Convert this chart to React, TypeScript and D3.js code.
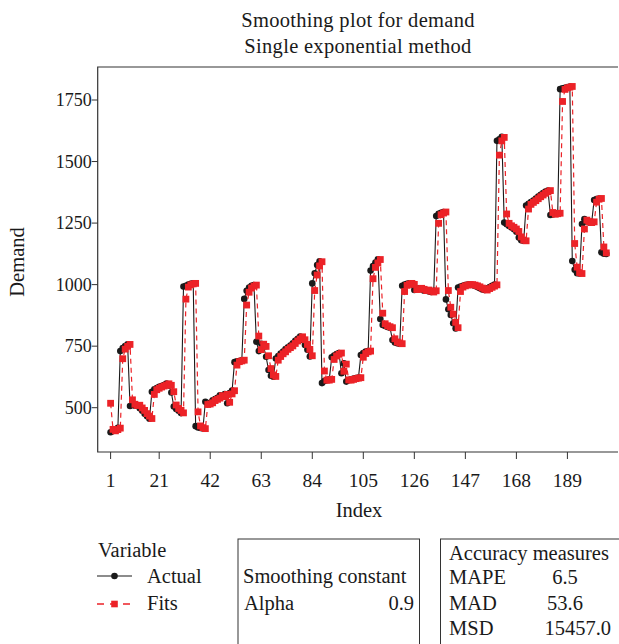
import React from "react";
import * as d3 from "d3";

const actual: number[] = [
  400, 405, 412, 418, 730, 742, 750, 758, 507, 512,
  508, 510, 498, 488, 475, 465, 455, 565, 575, 580,
  585, 588, 592, 598, 590, 562, 505, 495, 488, 478,
  992, 995, 1000, 1003, 1005, 425, 420, 418, 415, 524,
  515, 520, 530, 535, 540, 550, 545, 555, 518, 560,
  570, 685, 688, 690, 693, 942, 975, 988, 995, 998,
  768, 730, 760, 748, 707, 653, 630, 626, 700, 710,
  720, 728, 738, 745, 752, 762, 772, 780, 789, 775,
  755, 735, 708, 1005, 1046, 1080, 1095, 600, 608, 612,
  615, 705, 712, 718, 722, 640, 680, 606, 612, 615,
  618, 620, 622, 714, 722, 728, 730, 1057, 1075, 1090,
  1103, 860, 836, 832, 828, 825, 775, 765, 762, 760,
  995, 1000, 1003, 1005, 1000, 978, 982, 985, 980, 975,
  978, 972, 970, 975, 1279, 1288, 1292, 1295, 940, 900,
  877, 843, 822, 988, 992, 995, 998, 1000, 1000, 998,
  995, 990, 985, 980, 978, 985, 990, 995, 1000, 1584,
  1590, 1600, 1252, 1245, 1238, 1232, 1225, 1215, 1191, 1180,
  1178, 1321, 1328, 1335, 1342, 1350, 1358, 1365, 1372, 1378,
  1382, 1283, 1285, 1288, 1290, 1794, 1798, 1800, 1802, 1805,
  1096, 1060, 1046, 1045, 1246, 1266, 1255, 1252, 1255, 1344,
  1348, 1350, 1131, 1126, 1125,
];

const fits: number[] = [
  518, 412, 406, 411, 417, 699, 738, 749, 757, 532,
  514, 509, 510, 499, 489, 476, 466, 456, 554, 573,
  579, 584, 588, 592, 597, 591, 565, 511, 497, 489,
  479, 941, 990, 999, 1003, 1005, 483, 426, 419, 415,
  513, 515, 520, 529, 534, 539, 549, 545, 554, 522,
  556, 569, 673, 687, 690, 693, 917, 969, 986, 994,
  998, 791, 736, 758, 749, 711, 659, 633, 627, 693,
  708, 719, 727, 737, 744, 751, 761, 771, 779, 788,
  776, 757, 737, 711, 976, 1039, 1076, 1093, 649, 612,
  612, 615, 696, 710, 717, 722, 648, 677, 613, 612,
  615, 618, 620, 622, 705, 720, 727, 730, 1024, 1070,
  1088, 1102, 884, 841, 833, 829, 825, 780, 767, 763,
  760, 972, 997, 1002, 1005, 1001, 980, 982, 985, 981,
  976, 978, 973, 970, 975, 1249, 1284, 1291, 1295, 976,
  908, 880, 847, 825, 972, 990, 995, 998, 1000, 1000,
  998, 995, 991, 986, 981, 978, 984, 989, 994, 999,
  1526, 1584, 1598, 1287, 1249, 1239, 1233, 1226, 1216, 1194,
  1181, 1178, 1307, 1326, 1334, 1341, 1349, 1357, 1364, 1371,
  1377, 1382, 1293, 1286, 1288, 1290, 1744, 1793, 1799, 1802,
  1805, 1167, 1071, 1049, 1045, 1226, 1262, 1256, 1252, 1255,
  1335, 1347, 1350, 1153, 1129,
];

const xTicks: number[] = [1, 21, 42, 63, 84, 105, 126, 147, 168, 189];
const yTicks: number[] = [500, 750, 1000, 1250, 1500, 1750];
const titleLines: string[] = ["Smoothing plot for demand", "Single exponential method"];
const accuracyNames: string[] = ["MAPE", "MAD", "MSD"];
const accuracyValues: string[] = ["6.5", "53.6", "15457.0"];
const alphaValue = "0.9";

const W = 619;
const H = 644;
const FONT = "'Liberation Serif', 'DejaVu Serif', serif";
const RED = "#ec2227";
const DARK = "#1a1a1a";

export default function App() {
  const plotLeft = 97.7;
  const plotRight = 618;
  const plotTop = 67;
  const plotBottom = 452;

  const x = d3.scaleLinear().domain([1, 205]).range([110.6, 606.3]);
  const y = d3.scaleLinear().domain([500, 1750]).range([407.7, 100]);

  const lineGen = d3
    .line<number>()
    .x((_, i) => x(i + 1))
    .y((d) => y(d));

  const fsTitle = 20.5;
  const fsTickY = 18;
  const fsTickX = 19.5;
  const fsText = 20.5;

  return (
    <svg
      width={W}
      height={H}
      style={{ position: "absolute", left: 0, top: 0, background: "#fff" }}
      fontFamily={FONT}
    >
      <rect x={0} y={0} width={W} height={H} fill="#fff" />
      {/* Titles */}
      <text x={358} y={27} textAnchor="middle" fontSize={fsTitle} letterSpacing={0.3} fill={DARK}>
        {titleLines[0]}
      </text>
      <text x={358} y={53} textAnchor="middle" fontSize={fsTitle} letterSpacing={0.3} fill={DARK}>
        {titleLines[1]}
      </text>

      {/* Frame */}
      <path
        d={`M${plotRight},${plotTop}H${plotLeft}V${plotBottom}H${plotRight}`}
        fill="none"
        stroke="#333"
        strokeWidth={1.2}
      />

      {/* Y axis ticks */}
      {yTicks.map((t) => (
        <g key={"y" + t}>
          <line x1={plotLeft - 6} x2={plotLeft} y1={y(t)} y2={y(t)} stroke="#333" strokeWidth={1} />
          <text x={plotLeft - 6} y={y(t)} dy="0.35em" textAnchor="end" fontSize={fsTickY} fill={DARK}>
            {t}
          </text>
        </g>
      ))}
      <text
        transform={`translate(24,262) rotate(-90)`}
        textAnchor="middle"
        fontSize={fsText}
        fill={DARK}
      >
        Demand
      </text>

      {/* X axis ticks */}
      {xTicks.map((t) => (
        <g key={"x" + t}>
          <line x1={x(t)} x2={x(t)} y1={plotBottom} y2={plotBottom + 7} stroke="#333" strokeWidth={1} />
          <text x={x(t)} y={487} textAnchor="middle" fontSize={fsTickX} fill={DARK}>
            {t}
          </text>
        </g>
      ))}
      <text x={359} y={517} textAnchor="middle" fontSize={fsText} fill={DARK}>
        Index
      </text>

      {/* Actual series */}
      <path d={lineGen(actual) || ""} fill="none" stroke={DARK} strokeWidth={1.1} />
      {actual.map((d, i) => (
        <circle key={"a" + i} cx={x(i + 1)} cy={y(d)} r={3.3} fill={DARK} />
      ))}

      {/* Fits series */}
      <path
        d={lineGen(fits) || ""}
        fill="none"
        stroke={RED}
        strokeWidth={1.2}
        strokeDasharray="5,4"
      />
      {fits.map((d, i) => (
        <rect key={"f" + i} x={x(i + 1) - 3.4} y={y(d) - 3.4} width={6.8} height={6.8} fill={RED} />
      ))}

      {/* Legend */}
      <text x={98} y={557} fontSize={fsText} fill={DARK}>
        Variable
      </text>
      <line x1={97} x2={132} y1={576} y2={576} stroke={DARK} strokeWidth={1.2} />
      <circle cx={114.5} cy={576} r={3.3} fill={DARK} />
      <text x={147} y={583} fontSize={fsText} fill={DARK}>
        Actual
      </text>
      <line x1={97} x2={132} y1={604} y2={604} stroke={RED} strokeWidth={1.4} strokeDasharray="7,6" />
      <rect x={111.2} y={600.7} width={6.6} height={6.6} fill={RED} />
      <text x={147} y={610} fontSize={fsText} fill={DARK}>
        Fits
      </text>

      {/* Smoothing constant box */}
      <rect x={238} y={539} width={181.5} height={120} fill="none" stroke="#333" strokeWidth={1} />
      <text x={243} y={583} fontSize={fsText} fill={DARK}>
        Smoothing constant
      </text>
      <text x={244} y={610} fontSize={fsText} fill={DARK}>
        Alpha
      </text>
      <text x={414} y={610} textAnchor="end" fontSize={fsText} fill={DARK}>
        {alphaValue}
      </text>

      {/* Accuracy box */}
      <rect x={440.5} y={539} width={200} height={120} fill="none" stroke="#333" strokeWidth={1} />
      <text x={449} y={560} fontSize={fsText} fill={DARK}>
        Accuracy measures
      </text>
      {accuracyNames.map((n, i) => (
        <g key={n}>
          <text x={449} y={584 + i * 25.5} fontSize={fsText} fill={DARK}>
            {n}
          </text>
          <text
            x={i === 2 ? 611 : 565}
            y={584 + i * 25.5}
            textAnchor={i === 2 ? "end" : "middle"}
            fontSize={fsText}
            fill={DARK}
          >
            {accuracyValues[i]}
          </text>
        </g>
      ))}
    </svg>
  );
}
